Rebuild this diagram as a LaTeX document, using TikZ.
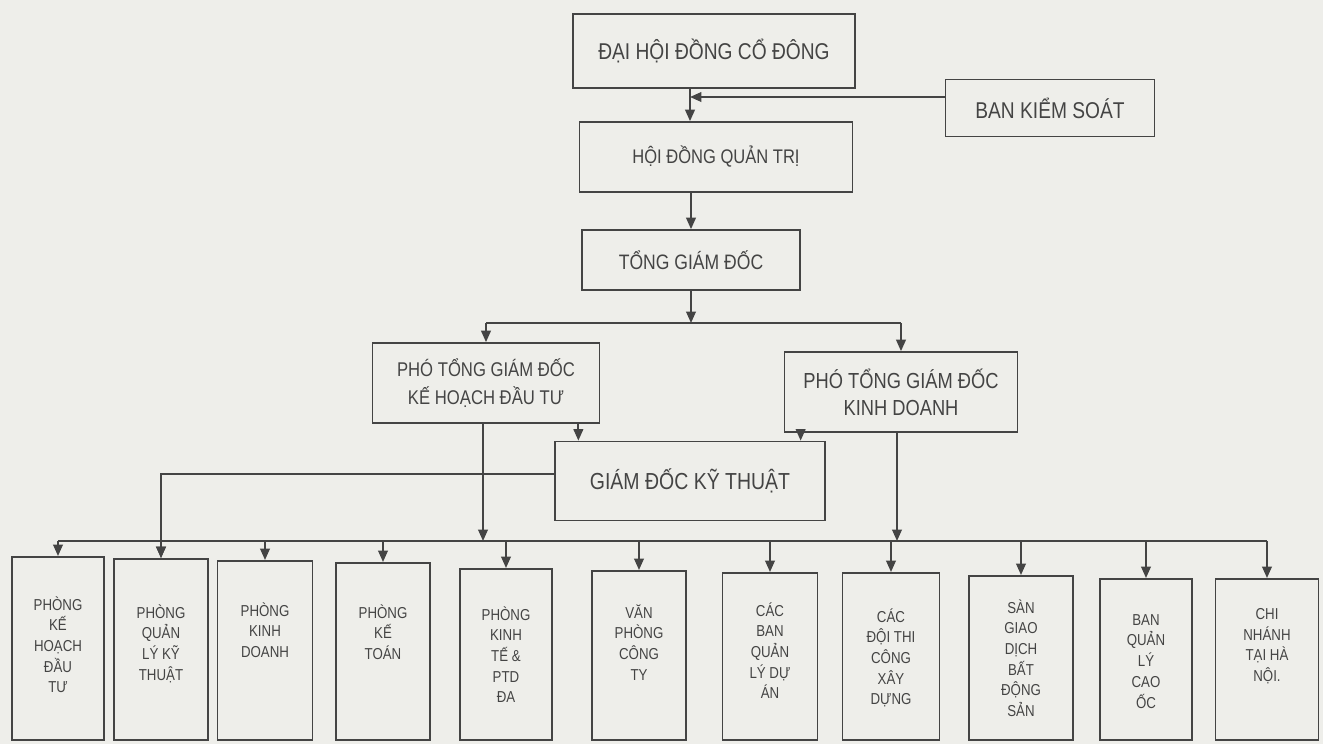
\documentclass[tikz,border=0pt]{standalone}
\usepackage{fontspec}
\setmainfont{Liberation Sans}[FakeStretch=0.84]
\usetikzlibrary{arrows.meta, positioning}
\definecolor{paper}{RGB}{238,238,234}
\definecolor{ink}{RGB}{68,68,68}
\tikzset{
  box/.style={draw=ink, line width=1pt, fill=paper, text=ink, align=center,
    font=\fontsize{#1}{15.5}\selectfont},
  box/.default=11,
  dept/.style={draw=ink, line width=1pt, fill=paper},
  depttxt/.style={text=ink, align=center, inner sep=0pt, font=\fontsize{9}{11.8}\selectfont},
  line/.style={draw=ink, line width=1pt},
  arr/.style={line, -{Triangle[length=6.5pt, width=5.5pt]}},
}

\begin{document}
\begin{tikzpicture}[x=0.02cm, y=-0.02cm]
  \fill[paper] (0,0) rectangle (1323,744);
  \useasboundingbox (0,0) rectangle (1323,744);

  % management
  \node[box=13, minimum width=5.64cm, minimum height=1.48cm] (dhd) at (714,51) {ĐẠI HỘI ĐỒNG CỔ ĐÔNG};
  \node[box=13, minimum width=4.18cm, minimum height=1.14cm] (bks) at (1050,108) {BAN KIỂM SOÁT};
  \node[box=11.2, minimum width=5.46cm, minimum height=1.40cm] (hdqt) at (716,157) {HỘI ĐỒNG QUẢN TRỊ};
  \node[box=11.9, minimum width=4.36cm, minimum height=1.20cm] (tgd) at (691,260) {TỔNG GIÁM ĐỐC};
  \node[box=11.3, minimum width=4.54cm, minimum height=1.60cm] (ptkh) at (486,383) {PHÓ TỔNG GIÁM ĐỐC\\KẾ HOẠCH ĐẦU TƯ};
  \node[box=12.4, minimum width=4.66cm, minimum height=1.60cm] (ptkd) at (901,392) {PHÓ TỔNG GIÁM ĐỐC\\KINH DOANH};
  \node[box=13.2, minimum width=5.40cm, minimum height=1.58cm] (gdkt) at (690,481) {GIÁM ĐỐC KỸ THUẬT};

  % departments
  \foreach \n/\x/\t/\w/\o/\txt in {
      1/58/556/1.84/40/{PHÒNG\\KẾ\\HOẠCH\\ĐẦU\\TƯ},
      2/161/558/1.88/46/{PHÒNG\\QUẢN\\LÝ KỸ\\THUẬT},
      3/265/560/1.90/42/{PHÒNG\\KINH\\DOANH},
      4/383/562/1.88/42/{PHÒNG\\KẾ\\TOÁN},
      5/506/568/1.84/38/{PHÒNG\\KINH\\TẾ \&\\PTD\\ĐA},
      6/639/570/1.88/34/{VĂN\\PHÒNG\\CÔNG\\TY},
      7/770/572/1.90/30/{CÁC\\BAN\\QUẢN\\LÝ DỰ\\ÁN},
      8/891/572/1.94/36/{CÁC\\ĐỘI THI\\CÔNG\\XÂY\\DỰNG},
      9/1021/575/2.08/24/{SÀN\\GIAO\\DỊCH\\BẤT\\ĐỘNG\\SẢN},
      10/1146/578/1.84/36/{BAN\\QUẢN\\LÝ\\CAO\\ỐC},
      11/1267/578/2.06/30/{CHI\\NHÁNH\\TẠI HÀ\\NỘI.}} {
    \pgfmathsetmacro\h{(739-\t)*0.02}
    \node[dept, anchor=north, minimum width=\w cm, minimum height=\h cm] (d\n) at (\x,\t) {};
    \node[depttxt, below=\o*0.02cm of d\n.north] {\txt};
  }

  % connectors
  \coordinate (j) at ([xshift=-0.48cm]dhd.south);
  \coordinate (k) at ([yshift=0.22cm]bks.west);
  \draw[arr] (j) -- (j |- hdqt.north);
  \draw[arr] (k) -- (k -| j);
  \draw[arr] (hdqt.south -| tgd) -- (tgd);

  \coordinate (b1) at (0,323);
  \draw[arr] (tgd) -- (tgd |- b1);
  \draw[line] (ptkh |- b1) -- (ptkd |- b1);
  \draw[arr] (ptkh |- b1) -- (ptkh);
  \draw[arr] (ptkd |- b1) -- (ptkd);

  \coordinate (p) at ([xshift=-0.44cm]ptkh.south east);
  \coordinate (q) at ([xshift=0.34cm]ptkd.south west);
  \draw[arr] (p) -- (p |- gdkt.north);
  \draw[arr] (q) -- (q |- gdkt.north);

  \coordinate (bus) at (0,541);
  \draw[arr] ([xshift=-0.06cm]ptkh.south) -- ([xshift=-0.06cm]ptkh.south |- bus);
  \draw[arr] ([xshift=-0.08cm]ptkd.south) -- ([xshift=-0.08cm]ptkd.south |- bus);
  \draw[arr] ([yshift=0.14cm]gdkt.west) -| (d2.north);
  \draw[line] (d1.north |- bus) -- (d11.north |- bus);
  \foreach \n in {1,...,11}
    \draw[arr] (d\n.north |- bus) -- (d\n.north);
\end{tikzpicture}
\end{document}
